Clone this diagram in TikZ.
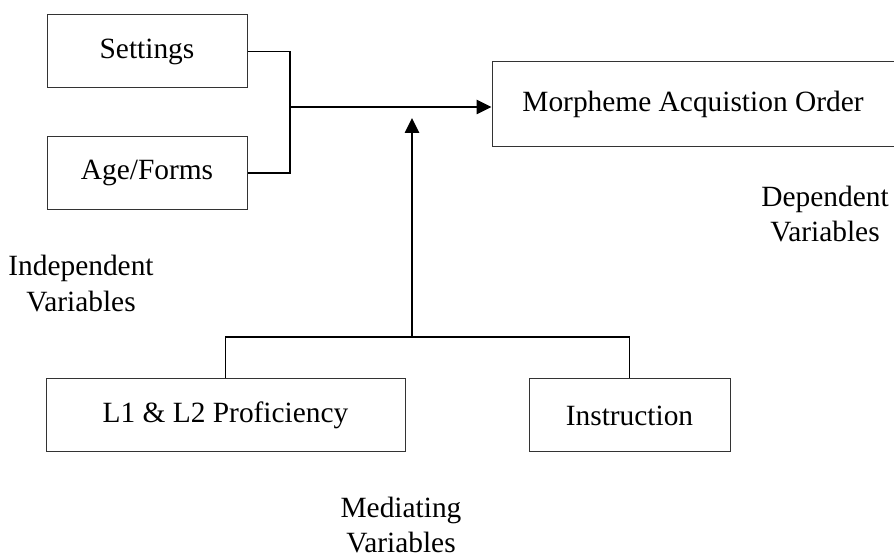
\documentclass[tikz,border=0pt]{standalone}
\usepackage{fontspec}
\setmainfont{Liberation Serif}
\usetikzlibrary{arrows.meta}

\begin{document}
\begin{tikzpicture}[>={Triangle[length=15bp,width=14bp]},line join=miter,
  every node/.style={font=\fontsize{29.5}{35.5}\selectfont},
  var/.style={draw=black!80,rectangle,line width=1bp,inner sep=0pt,minimum height=73bp},
  lbl/.style={align=center,inner sep=0pt},
  link/.style={line width=1.1bp},
  flow/.style={->,line width=2.6bp}]
\useasboundingbox (0bp,0bp) rectangle (894bp,558bp);
%%
\node (settings) at (147bp,506.5bp) [var,minimum width=200bp] {Settings};
  \node (age_forms) at (147bp,385bp) [var,minimum width=200bp] {Age/Forms};
  \node (morpheme) at (693bp,453.5bp) [var,minimum width=402bp,minimum height=85bp] {Morpheme Acquistion Order};
  \node (proficiency) at (225.5bp,142.5bp) [var,minimum width=359bp] {L1 \& L2 Proficiency};
  \node (instruction) at (629.5bp,142.5bp) [var,minimum width=201bp] {Instruction};
  \node (independent) at (81bp,274.4bp) [lbl] {Independent\\Variables};
  \node (dependent) at (825bp,344.2bp) [lbl] {Dependent\\Variables};
  \node (mediating) at (401bp,33bp) [lbl] {Mediating\\Variables};
  \coordinate (join_in) at (290bp,451bp);
  \coordinate (join_med) at (412bp,221bp);
  \coordinate (tip_med) at (412bp,440bp);
  \draw [link] (settings.east) -| (join_in);
  \draw [link] (age_forms.east) -| (join_in);
  \draw [flow] (join_in) -- (join_in -| morpheme.west);
  \draw [link] (proficiency.north) |- (join_med) -| (instruction.north);
  \draw [flow] (join_med) -- (tip_med);
%
\end{tikzpicture}
\end{document}
